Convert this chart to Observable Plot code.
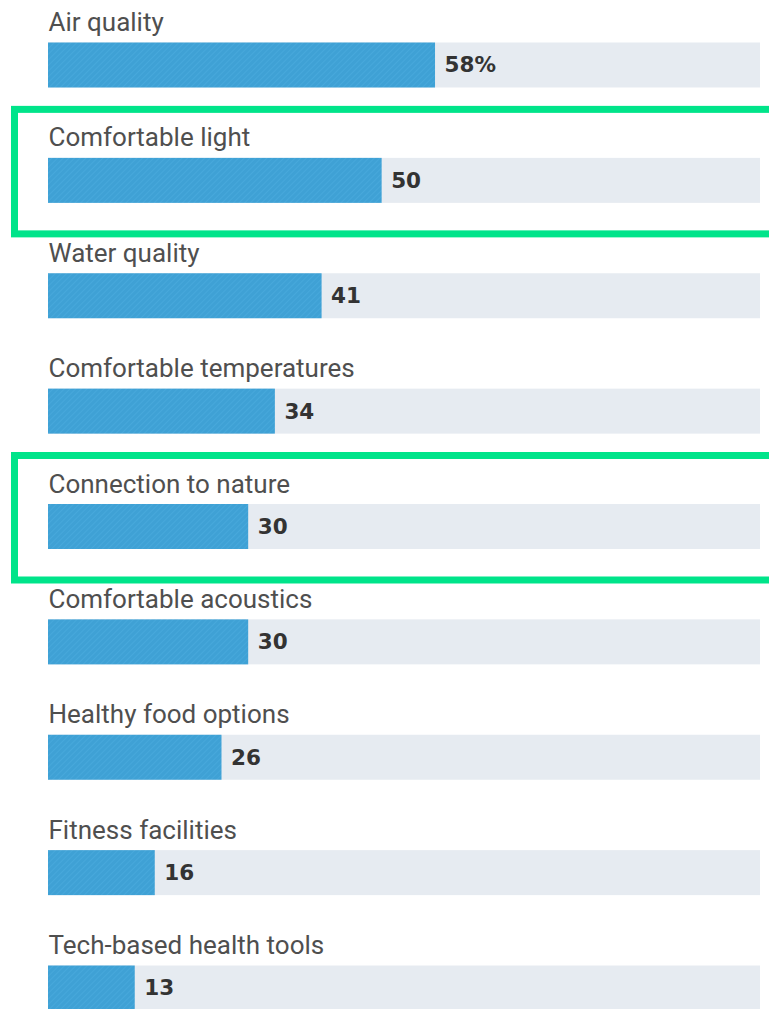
<!DOCTYPE html>
<html><head><meta charset="utf-8">
<script src="https://cdn.jsdelivr.net/npm/d3@7"></script>
<script src="https://cdn.jsdelivr.net/npm/@observablehq/plot@0.6"></script>
<style>body{margin:0;background:#fff;overflow:hidden}</style>
</head><body><div id="chart"></div>
<script>
const categories = ["Air quality","Comfortable light","Water quality","Comfortable temperatures","Connection to nature","Comfortable acoustics","Healthy food options","Fitness facilities","Tech-based health tools"];
const values = [58,50,41,34,30,30,26,16,13];
const valueLabels = ["58%","50","41","34","30","30","26","16","13"];
const highlighted = ["Comfortable light","Connection to nature"];
const trackMax = 106.7;

const data = categories.map((c,i)=>({category:c, value:values[i], label:valueLabels[i]}));
const hl = data.filter(d=>highlighted.includes(d.category));

const chart = Plot.plot({
  width:769, height:1009, marginTop:0, marginBottom:0, marginLeft:48, marginRight:9,
  x:{domain:[0,trackMax], axis:null},
  y:{domain:categories, range:[42.5,1010.5], paddingInner:0.61, paddingOuter:0, round:false, axis:null},
  style:{background:"#fff", overflow:"visible"},
  marks:[
    Plot.barX(data,{y:"category", x1:0, x2:trackMax, fill:"#e6ebf1"}),
    Plot.barX(data,{y:"category", x:"value", fill:"url(#hatch)"}),
    Plot.text(data,{y:"category", x:0, text:"category", textAnchor:"start", lineAnchor:"bottom", dy:-34.5, fontSize:26, fill:"#4f4f4f", fontFamily:"Roboto"}),
    Plot.text(data,{y:"category", x:"value", text:"label", textAnchor:"start", lineAnchor:"middle", dx:9, fontSize:21.5, fontWeight:"bold", fill:"#333", fontFamily:"DejaVu Sans"}),
    Plot.barX(hl,{y:"category", x1:-5.02, x2:125, fill:"none", stroke:"#00e48a", strokeWidth:7, insetTop:-48.5, insetBottom:-31})
  ]
});
d3.select(chart).insert("defs", ":first-child").html(
  '<pattern id="hatch" width="4" height="4" patternUnits="userSpaceOnUse" patternTransform="rotate(45)">' +
  '<rect width="4" height="4" fill="#3fa1d5"/>' +
  '<line x1="0" y1="0" x2="0" y2="4" stroke="#4aaadd" stroke-width="1.5"/></pattern>');
document.getElementById("chart").appendChild(chart);
</script>
</body></html>
